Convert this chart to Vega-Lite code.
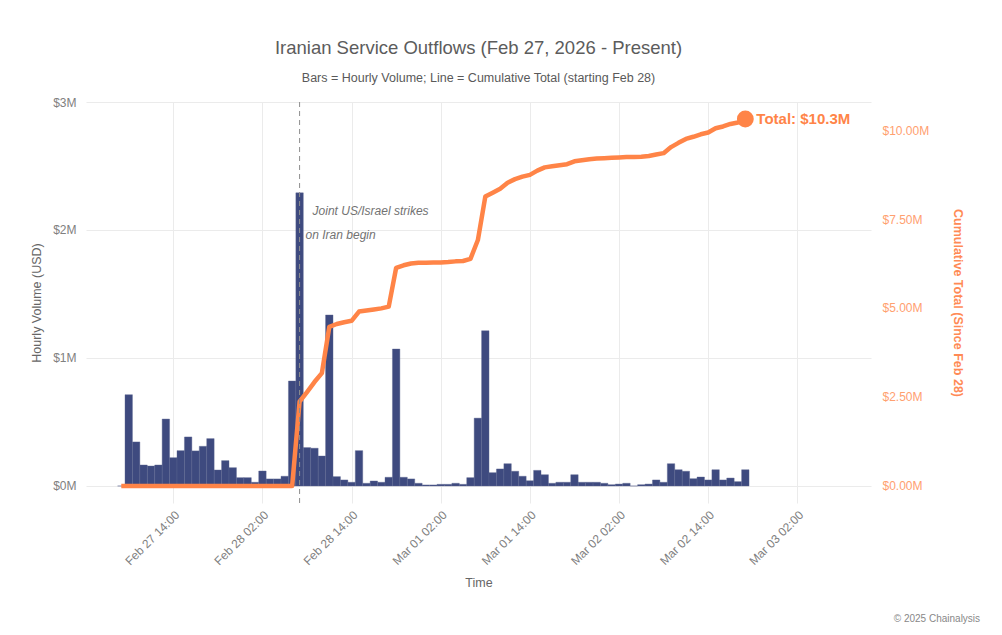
{
  "$schema": "https://vega.github.io/schema/vega-lite/v6.json",
  "width": 785,
  "height": 401,
  "autosize": {"type": "none"},
  "padding": {"left": 86, "top": 102, "right": 131, "bottom": 132},
  "background": "white",
  "config": {
    "font": "Liberation Sans",
    "view": {"stroke": null},
    "axis": {"domain": false, "ticks": false, "gridColor": "#ebebeb", "gridWidth": 1}
  },
  "title": {
    "text": "Iranian Service Outflows (Feb 27, 2026 - Present)",
    "subtitle": "Bars = Hourly Volume; Line = Cumulative Total (starting Feb 28)",
    "anchor": "middle",
    "frame": "group",
    "fontSize": 18.5,
    "fontWeight": "normal",
    "color": "#5c5c5c",
    "subtitleFontSize": 12.5,
    "subtitleColor": "#595959",
    "subtitlePadding": 14,
    "offset": 12
  },
  "data": {
    "values": [
      {"t": "2026-02-27T07:00", "v": 0, "c": 0},
      {"t": "2026-02-27T08:00", "v": 0.713, "c": 0},
      {"t": "2026-02-27T09:00", "v": 0.344, "c": 0},
      {"t": "2026-02-27T10:00", "v": 0.164, "c": 0},
      {"t": "2026-02-27T11:00", "v": 0.156, "c": 0},
      {"t": "2026-02-27T12:00", "v": 0.164, "c": 0},
      {"t": "2026-02-27T13:00", "v": 0.523, "c": 0},
      {"t": "2026-02-27T14:00", "v": 0.221, "c": 0},
      {"t": "2026-02-27T15:00", "v": 0.276, "c": 0},
      {"t": "2026-02-27T16:00", "v": 0.383, "c": 0},
      {"t": "2026-02-27T17:00", "v": 0.274, "c": 0},
      {"t": "2026-02-27T18:00", "v": 0.31, "c": 0},
      {"t": "2026-02-27T19:00", "v": 0.37, "c": 0},
      {"t": "2026-02-27T20:00", "v": 0.125, "c": 0},
      {"t": "2026-02-27T21:00", "v": 0.198, "c": 0},
      {"t": "2026-02-27T22:00", "v": 0.143, "c": 0},
      {"t": "2026-02-27T23:00", "v": 0.065, "c": 0},
      {"t": "2026-02-28T00:00", "v": 0.065, "c": 0},
      {"t": "2026-02-28T01:00", "v": 0.029, "c": 0},
      {"t": "2026-02-28T02:00", "v": 0.117, "c": 0},
      {"t": "2026-02-28T03:00", "v": 0.055, "c": 0},
      {"t": "2026-02-28T04:00", "v": 0.055, "c": 0},
      {"t": "2026-02-28T05:00", "v": 0.076, "c": 0},
      {"t": "2026-02-28T06:00", "v": 0.82, "c": 0},
      {"t": "2026-02-28T07:00", "v": 2.29, "c": 2.37},
      {"t": "2026-02-28T08:00", "v": 0.30, "c": 2.64},
      {"t": "2026-02-28T09:00", "v": 0.295, "c": 2.92},
      {"t": "2026-02-28T10:00", "v": 0.234, "c": 3.17},
      {"t": "2026-02-28T11:00", "v": 1.336, "c": 4.47},
      {"t": "2026-02-28T12:00", "v": 0.073, "c": 4.55},
      {"t": "2026-02-28T13:00", "v": 0.047, "c": 4.60},
      {"t": "2026-02-28T14:00", "v": 0.029, "c": 4.64},
      {"t": "2026-02-28T15:00", "v": 0.276, "c": 4.90},
      {"t": "2026-02-28T16:00", "v": 0.021, "c": 4.93},
      {"t": "2026-02-28T17:00", "v": 0.039, "c": 4.96},
      {"t": "2026-02-28T18:00", "v": 0.029, "c": 4.99},
      {"t": "2026-02-28T19:00", "v": 0.068, "c": 5.04},
      {"t": "2026-02-28T20:00", "v": 1.07, "c": 6.13},
      {"t": "2026-02-28T21:00", "v": 0.068, "c": 6.20},
      {"t": "2026-02-28T22:00", "v": 0.055, "c": 6.25},
      {"t": "2026-02-28T23:00", "v": 0.021, "c": 6.27},
      {"t": "2026-03-01T00:00", "v": 0.008, "c": 6.27},
      {"t": "2026-03-01T01:00", "v": 0.008, "c": 6.28},
      {"t": "2026-03-01T02:00", "v": 0.013, "c": 6.28},
      {"t": "2026-03-01T03:00", "v": 0.013, "c": 6.29},
      {"t": "2026-03-01T04:00", "v": 0.021, "c": 6.31},
      {"t": "2026-03-01T05:00", "v": 0.013, "c": 6.32},
      {"t": "2026-03-01T06:00", "v": 0.065, "c": 6.38},
      {"t": "2026-03-01T07:00", "v": 0.53, "c": 6.91},
      {"t": "2026-03-01T08:00", "v": 1.213, "c": 8.13},
      {"t": "2026-03-01T09:00", "v": 0.104, "c": 8.24},
      {"t": "2026-03-01T10:00", "v": 0.133, "c": 8.35},
      {"t": "2026-03-01T11:00", "v": 0.174, "c": 8.52},
      {"t": "2026-03-01T12:00", "v": 0.115, "c": 8.62},
      {"t": "2026-03-01T13:00", "v": 0.076, "c": 8.69},
      {"t": "2026-03-01T14:00", "v": 0.041, "c": 8.74},
      {"t": "2026-03-01T15:00", "v": 0.122, "c": 8.86},
      {"t": "2026-03-01T16:00", "v": 0.088, "c": 8.95},
      {"t": "2026-03-01T17:00", "v": 0.021, "c": 8.98},
      {"t": "2026-03-01T18:00", "v": 0.029, "c": 9.01},
      {"t": "2026-03-01T19:00", "v": 0.029, "c": 9.04},
      {"t": "2026-03-01T20:00", "v": 0.088, "c": 9.12},
      {"t": "2026-03-01T21:00", "v": 0.029, "c": 9.15},
      {"t": "2026-03-01T22:00", "v": 0.029, "c": 9.18},
      {"t": "2026-03-01T23:00", "v": 0.029, "c": 9.20},
      {"t": "2026-03-02T00:00", "v": 0.021, "c": 9.21},
      {"t": "2026-03-02T01:00", "v": 0.010, "c": 9.22},
      {"t": "2026-03-02T02:00", "v": 0.015, "c": 9.23},
      {"t": "2026-03-02T03:00", "v": 0.021, "c": 9.24},
      {"t": "2026-03-02T04:00", "v": 0, "c": 9.24},
      {"t": "2026-03-02T05:00", "v": 0.010, "c": 9.25},
      {"t": "2026-03-02T06:00", "v": 0.015, "c": 9.27},
      {"t": "2026-03-02T07:00", "v": 0.047, "c": 9.31},
      {"t": "2026-03-02T08:00", "v": 0.029, "c": 9.35},
      {"t": "2026-03-02T09:00", "v": 0.174, "c": 9.52},
      {"t": "2026-03-02T10:00", "v": 0.127, "c": 9.64},
      {"t": "2026-03-02T11:00", "v": 0.115, "c": 9.75},
      {"t": "2026-03-02T12:00", "v": 0.057, "c": 9.81},
      {"t": "2026-03-02T13:00", "v": 0.070, "c": 9.88},
      {"t": "2026-03-02T14:00", "v": 0.047, "c": 9.93},
      {"t": "2026-03-02T15:00", "v": 0.127, "c": 10.05},
      {"t": "2026-03-02T16:00", "v": 0.047, "c": 10.10},
      {"t": "2026-03-02T17:00", "v": 0.062, "c": 10.17},
      {"t": "2026-03-02T18:00", "v": 0.034, "c": 10.21},
      {"t": "2026-03-02T19:00", "v": 0.127, "c": 10.31}
    ]
  },
  "layer": [
    {
      "mark": {"type": "bar", "width": 7.43, "color": "#3e4a7f", "stroke": "#5a6490", "strokeWidth": 0.4},
      "encoding": {
        "x": {
          "field": "t", "type": "temporal",
          "scale": {
            "domain": [
              {"year": 2026, "month": 2, "date": 27, "hours": 2, "minutes": 15},
              {"year": 2026, "month": 3, "date": 3, "hours": 11, "minutes": 55}
            ],
            "padding": 0
          },
          "axis": {
            "title": "Time",
            "values": [
              {"year": 2026, "month": 2, "date": 27, "hours": 14},
              {"year": 2026, "month": 2, "date": 28, "hours": 2},
              {"year": 2026, "month": 2, "date": 28, "hours": 14},
              {"year": 2026, "month": 3, "date": 1, "hours": 2},
              {"year": 2026, "month": 3, "date": 1, "hours": 14},
              {"year": 2026, "month": 3, "date": 2, "hours": 2},
              {"year": 2026, "month": 3, "date": 2, "hours": 14},
              {"year": 2026, "month": 3, "date": 3, "hours": 2}
            ],
            "format": "%b %d %H:%M",
            "labelAngle": -45,
            "labelFontSize": 12,
            "labelColor": "#808080",
            "labelPadding": 6,
            "titleFontSize": 12.5,
            "titleFontWeight": "normal",
            "titleColor": "#666666",
            "titlePadding": 10
          }
        },
        "y": {
          "field": "v", "type": "quantitative",
          "scale": {"domain": [-0.133, 3], "nice": false, "zero": false},
          "axis": {
            "title": "Hourly Volume (USD)",
            "values": [0, 1, 2, 3],
            "labelExpr": "'$' + datum.value + 'M'",
            "labelFontSize": 12,
            "labelColor": "#808080",
            "labelPadding": 10,
            "titleFontSize": 12.5,
            "titleFontWeight": "normal",
            "titleColor": "#666666",
            "titlePadding": 9
          }
        }
      }
    },
    {
      "layer": [
        {
          "mark": {"type": "line", "color": "#ff8447", "strokeWidth": 4.5, "strokeJoin": "round"},
          "encoding": {
            "x": {"field": "t", "type": "temporal"},
            "y": {
              "field": "c", "type": "quantitative",
              "scale": {"domain": [-0.478, 10.787], "nice": false, "zero": false},
              "axis": {
                "orient": "right",
                "grid": false,
                "title": "Cumulative Total (Since Feb 28)",
                "values": [0, 2.5, 5, 7.5, 10],
                "labelExpr": "'$' + format(datum.value, '.2f') + 'M'",
                "labelFontSize": 12,
                "labelColor": "#ffa070",
                "labelPadding": 11,
                "titleFontSize": 12.5,
                "titleFontWeight": "bold",
                "titleColor": "#ff8a55",
                "titlePadding": 22
              }
            }
          }
        },
        {
          "transform": [{"filter": "datum.c >= 10.3"}],
          "mark": {"type": "point", "filled": true, "size": 283, "color": "#ff8447", "opacity": 1},
          "encoding": {
            "x": {"field": "t", "type": "temporal"},
            "y": {"field": "c", "type": "quantitative"}
          }
        },
        {
          "transform": [{"filter": "datum.c >= 10.3"}],
          "mark": {"type": "text", "text": "Total: $10.3M", "align": "left", "baseline": "middle", "dx": 11, "fontSize": 15, "fontWeight": "bold", "color": "#ff8447", "clip": false},
          "encoding": {
            "x": {"field": "t", "type": "temporal"},
            "y": {"field": "c", "type": "quantitative"}
          }
        }
      ]
    },
    {
      "data": {"values": [{}]},
      "layer": [
        {
          "mark": {"type": "rule", "color": "#8f8f8f", "strokeDash": [5, 4], "strokeWidth": 1},
          "encoding": {
            "x": {"datum": {"year": 2026, "month": 2, "date": 28, "hours": 7}, "type": "temporal"}
          }
        },
        {
          "mark": {"type": "text", "text": "Joint US/Israel strikes", "align": "left", "baseline": "middle", "fontStyle": "italic", "fontSize": 12, "color": "#727272", "dx": 13},
          "encoding": {
            "x": {"datum": {"year": 2026, "month": 2, "date": 28, "hours": 7}, "type": "temporal"},
            "y": {"datum": 2.148, "type": "quantitative", "scale": {"domain": [-0.133, 3], "nice": false, "zero": false}, "axis": null}
          }
        },
        {
          "mark": {"type": "text", "text": "on Iran begin", "align": "left", "baseline": "middle", "fontStyle": "italic", "fontSize": 12, "color": "#727272", "dx": 6},
          "encoding": {
            "x": {"datum": {"year": 2026, "month": 2, "date": 28, "hours": 7}, "type": "temporal"},
            "y": {"datum": 1.961, "type": "quantitative", "axis": null}
          }
        },
        {
          "mark": {"type": "text", "text": "© 2025 Chainalysis", "align": "right", "baseline": "middle", "fontSize": 10, "color": "#888888", "clip": false},
          "encoding": {
            "x": {"datum": {"year": 2026, "month": 3, "date": 4, "hours": 2, "minutes": 36}, "type": "temporal"},
            "y": {"datum": -1.039, "type": "quantitative", "axis": null}
          }
        }
      ]
    }
  ],
  "resolve": {"scale": {"y": "independent"}}
}
